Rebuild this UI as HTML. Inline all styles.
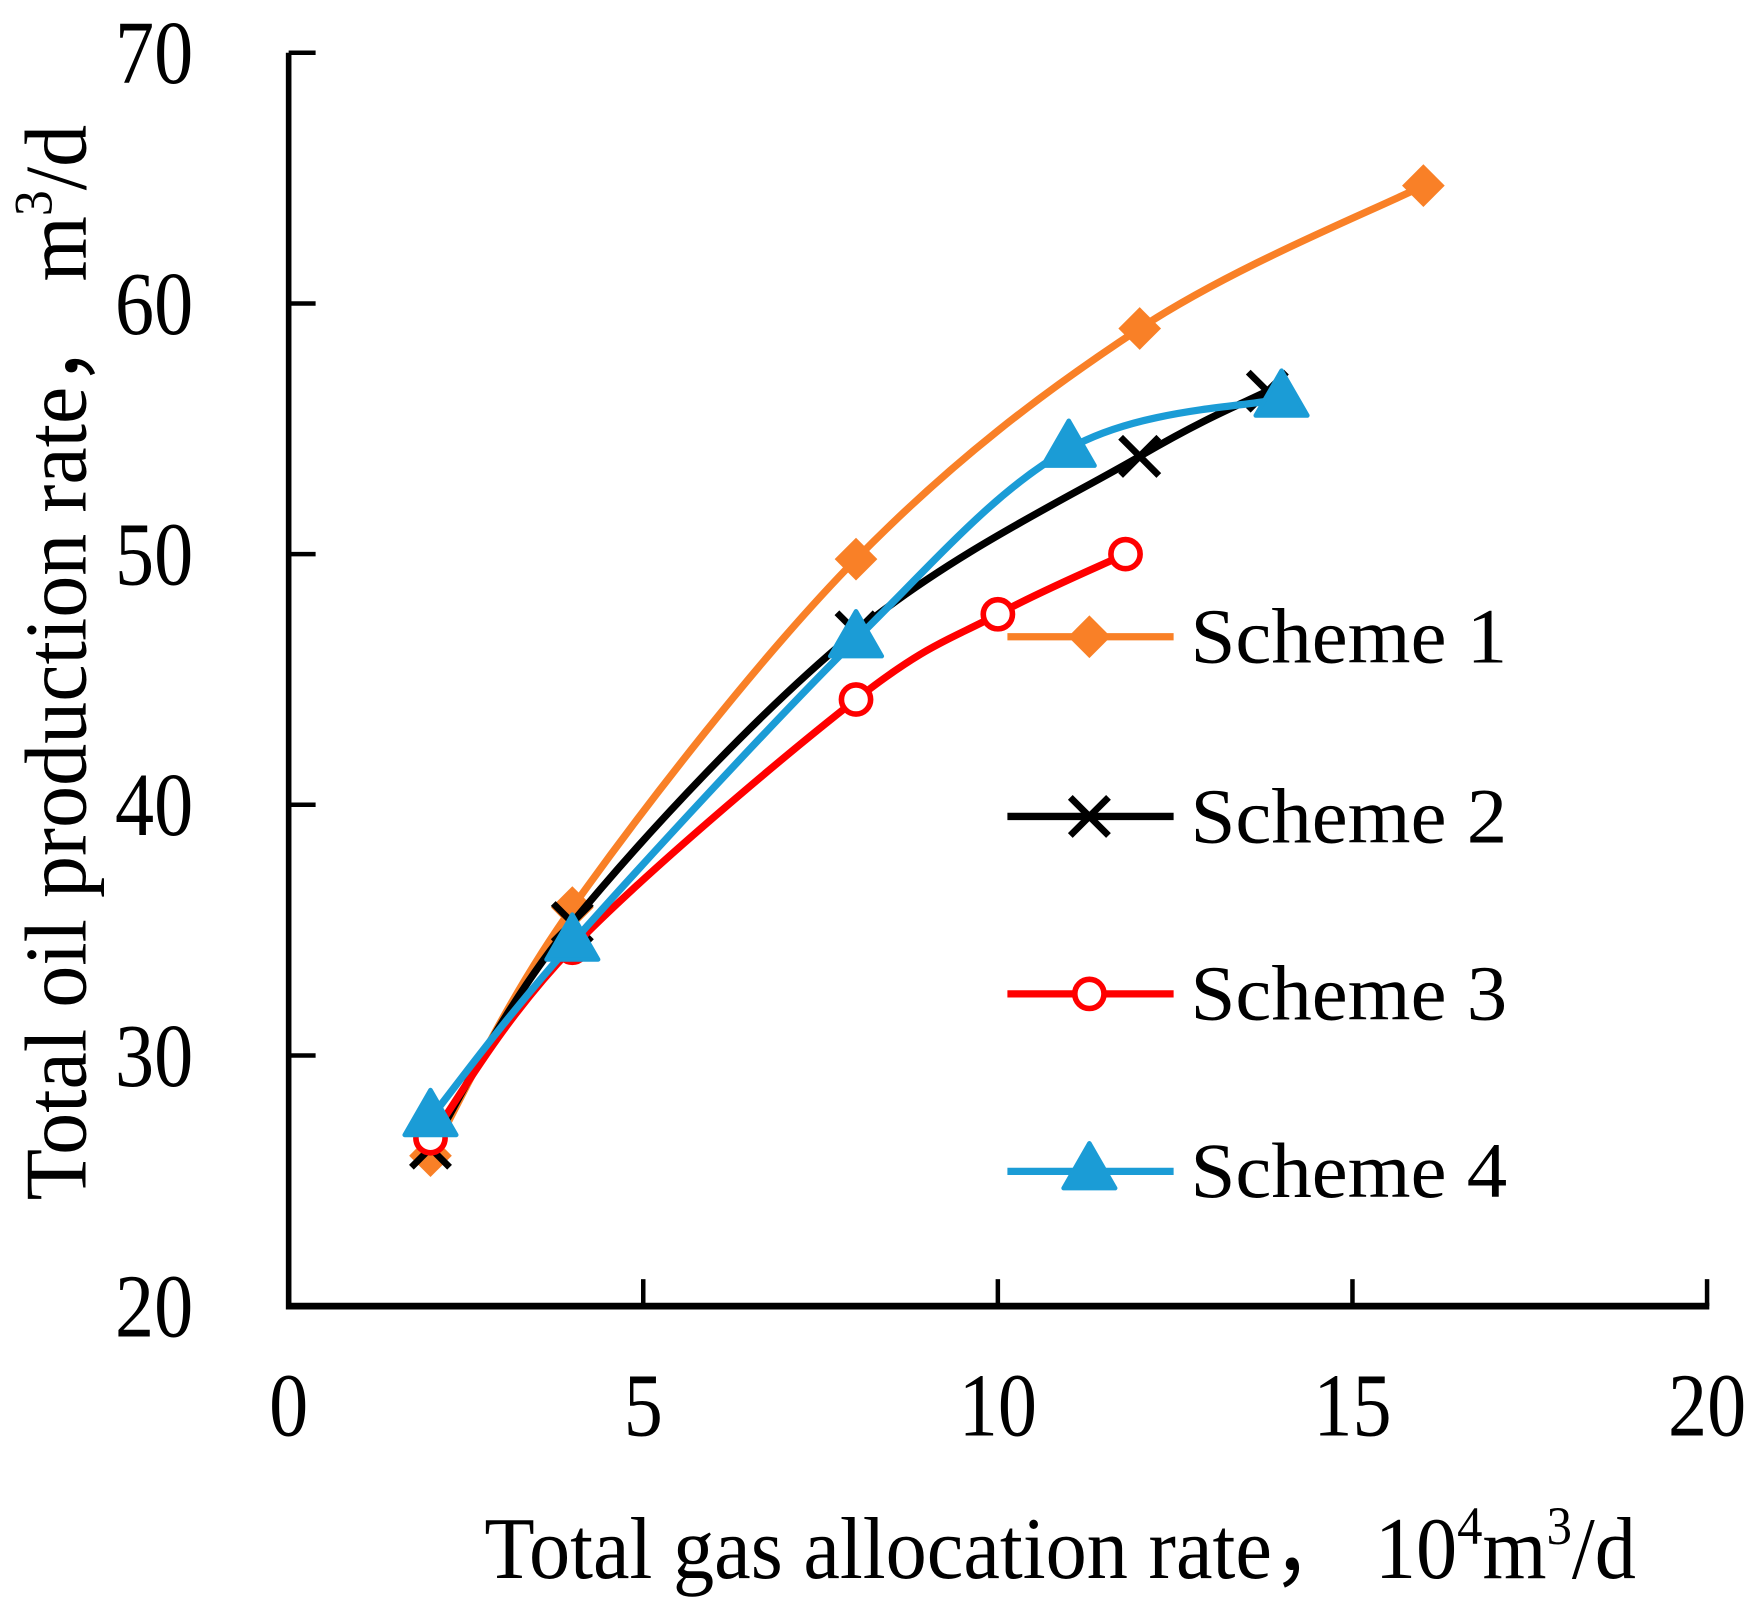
<!DOCTYPE html>
<html><head><meta charset="utf-8"><style>
html,body{margin:0;padding:0;background:#fff;}
svg{display:block;}
text{font-family:"Liberation Serif","Times New Roman",serif;fill:#000;}
</style></head><body>
<svg id="chart" width="1761" height="1620" viewBox="0 0 1568 1442.5" xmlns="http://www.w3.org/2000/svg">
<g id="axes"></g>
<g id="series"></g>
<g id="legend"></g>
<text transform="translate(944,1405) scale(0.94,1)" font-size="78" text-anchor="middle">Total gas allocation rate，  10<tspan font-size="48" dy="-30">4</tspan><tspan dy="30">m</tspan><tspan font-size="48" dy="-30">3</tspan><tspan dy="30">/d</tspan></text>
<text transform="translate(76,590) rotate(-90) scale(0.96,1)" font-size="78" text-anchor="middle">Total oil production rate，  m<tspan font-size="48" dy="-30">3</tspan><tspan dy="30">/d</tspan></text>
</svg>
<script>
const xTicks=[0,5,10,15,20];
const yTicks=[20,30,40,50,60,70];
const seriesNames=["Scheme 1","Scheme 2","Scheme 3","Scheme 4"];
const s1x=[2,4,8,12,16]; const s1y=[26.0,35.9,49.8,59.0,64.7];
const s2x=[2,4,8,12,13.8]; const s2y=[26.3,35.3,46.9,53.9,56.5];
const s3x=[2,4,8,10,11.8]; const s3y=[26.7,34.3,44.2,47.6,50.0];
const s4x=[2,4,8,11,14]; const s4y=[27.5,34.5,46.6,54.2,56.2];

const NS="http://www.w3.org/2000/svg";
const X0=257,X1=1520,Y0=1163,Y1=47;
const xs=v=>X0+(v-0)/20*(X1-X0);
const ys=v=>Y0-(v-20)/50*(Y0-Y1);
function mk(t,a,p){const e=document.createElementNS(NS,t);for(const k in a)e.setAttribute(k,a[k]);p.appendChild(e);return e;}
const axes=document.getElementById('axes');
let e=mk('line',{x1:X0,y1:Y0,x2:X1+2,y2:Y0,stroke:'#000','stroke-width':6},axes);

e=mk('line',{x1:X0,y1:Y0+3,x2:X0,y2:Y1,stroke:'#000','stroke-width':5},axes);

xTicks.forEach(v=>{
 const t=mk('line',{x1:xs(v),y1:Y0,x2:xs(v),y2:Y0-24,stroke:'#000','stroke-width':4},axes);
 
 const l=mk('text',{transform:`translate(${xs(v)},1278) scale(0.87,1)`,'font-size':80,'text-anchor':'middle'},axes);l.textContent=v;
 
});
yTicks.forEach(v=>{
 const t=mk('line',{x1:X0,y1:ys(v),x2:X0+24,y2:ys(v),stroke:'#000','stroke-width':4},axes);
 
 const l=mk('text',{transform:`translate(172,${ys(v)+27}) scale(0.87,1)`,'font-size':80,'text-anchor':'end'},axes);l.textContent=v;
 
});
function smooth(p){let d=`M${p[0][0]},${p[0][1]}`;for(let i=0;i<p.length-1;i++){const a=p[i-1]||p[i],b=p[i],c=p[i+1],n=p[i+2]||c;const t=0.17;d+=` C${b[0]+(c[0]-a[0])*t},${b[1]+(c[1]-a[1])*t} ${c[0]-(n[0]-b[0])*t},${c[1]-(n[1]-b[1])*t} ${c[0]},${c[1]}`;}return d;}
function marker(type,x,y,col,g){
 let m;
 if(type==='diamond')m=mk('path',{d:`M${x},${y-19}L${x+19},${y}L${x},${y+19}L${x-19},${y}Z`,fill:col},g);
 else if(type==='x')m=mk('path',{d:`M${x-17},${y-17}L${x+17},${y+17}M${x+17},${y-17}L${x-17},${y+17}`,stroke:col,'stroke-width':6,fill:'none'},g);
 else if(type==='circle')m=mk('circle',{cx:x,cy:y,r:13,fill:'#fff',stroke:col,'stroke-width':5},g);
 else m=mk('path',{d:`M${x},${y-25}L${x+23},${y+15}L${x-23},${y+15}Z`,fill:col,stroke:col,'stroke-width':4,'stroke-linejoin':'round'},g);
 
}
const cfg=[[s1x,s1y,'#F98027','diamond'],[s2x,s2y,'#000','x'],[s3x,s3y,'#FF0000','circle'],[s4x,s4y,'#1B9CD6','tri']];
const sg=document.getElementById('series');
cfg.forEach((c,i)=>{
 const g=mk('g',{},sg);
 const pts=c[0].map((v,j)=>[xs(v),ys(c[1][j])]);
 const p=mk('path',{d:smooth(pts),fill:'none',stroke:c[2],'stroke-width':6.5},g);
 
});
cfg.forEach((c,i)=>{const g=sg.children[i];c[0].forEach((v,j)=>marker(c[3],xs(v),ys(c[1][j]),c[2],g));});
const lg=document.getElementById('legend');
const ly=[567,727,885,1043];
cfg.forEach((c,i)=>{
 const g=mk('g',{},lg);
 mk('line',{x1:897,y1:ly[i],x2:1045,y2:ly[i],stroke:c[2],'stroke-width':6.5},g);
 marker(c[3],970,ly[i],c[2],g);
 const t=mk('text',{x:1060,y:ly[i]+23,'font-size':70,textLength:282,lengthAdjust:'spacingAndGlyphs'},g);t.textContent=seriesNames[i];
 
});
</script>
</body></html>
